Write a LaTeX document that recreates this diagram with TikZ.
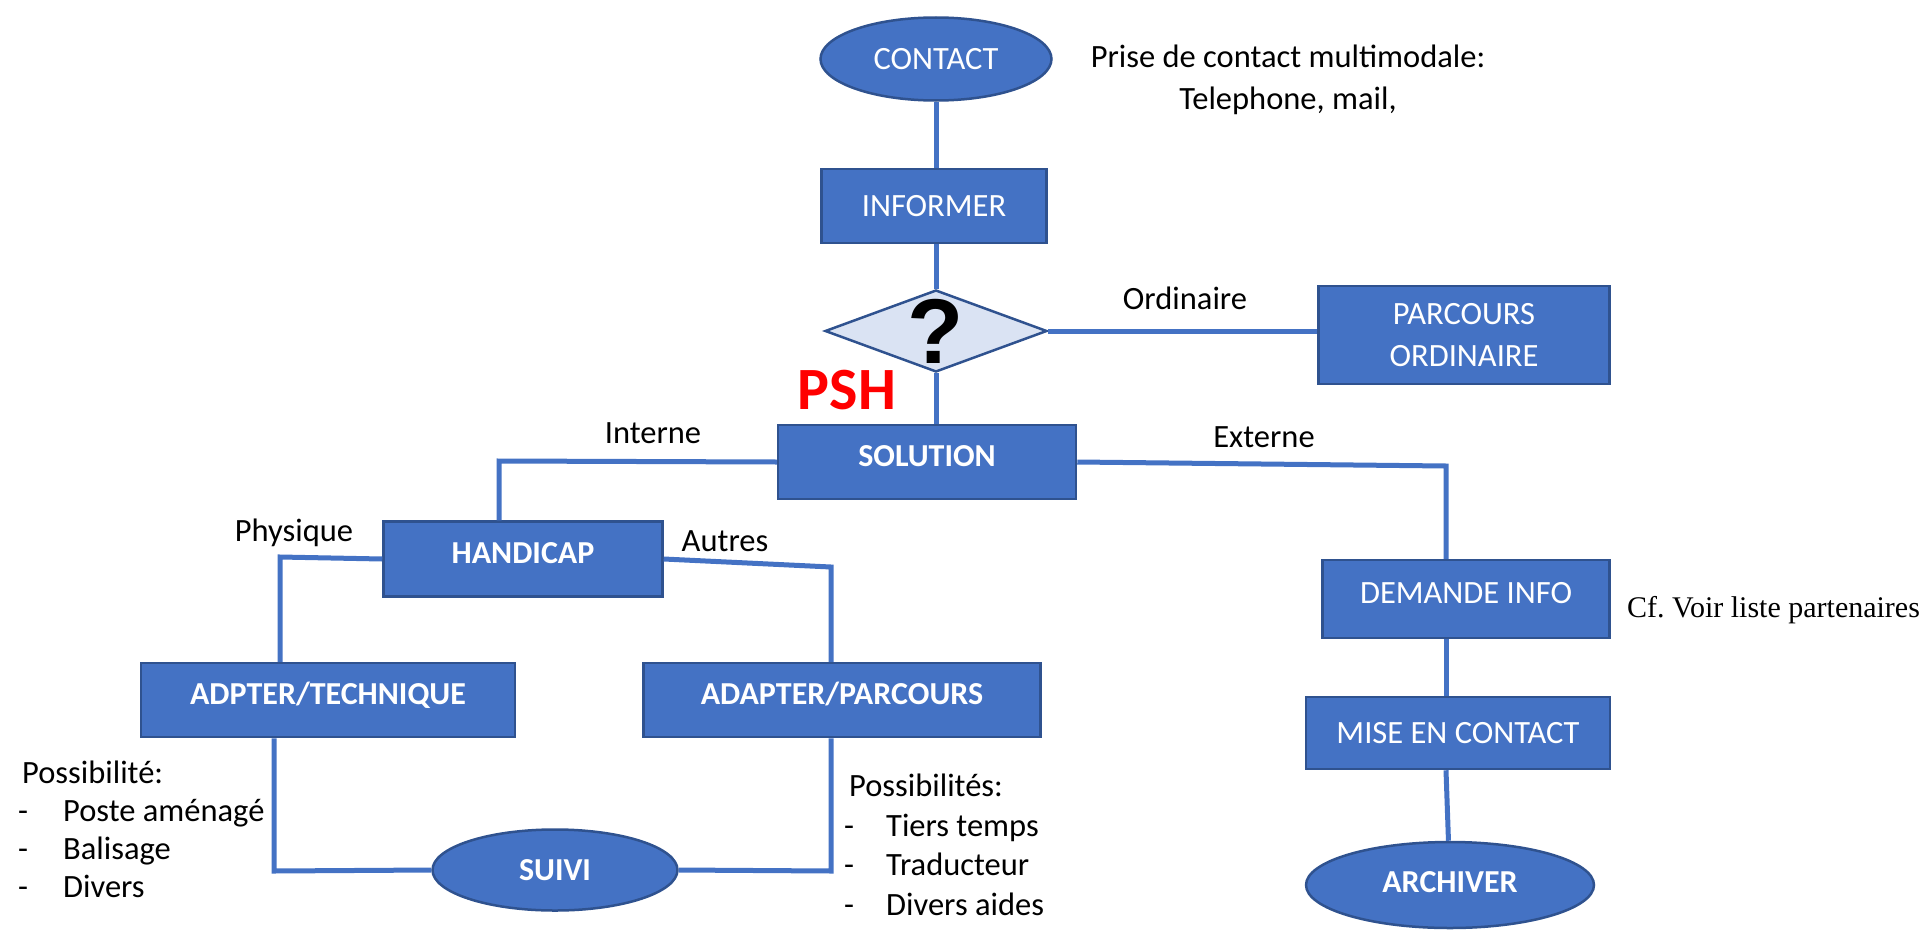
\documentclass[tikz,border=0pt]{standalone}
\usepackage{fontspec}
\setmainfont{Carlito}
\newfontfamily\notefont{Liberation Serif}
\newfontfamily\markfont{Liberation Sans}
\usepackage{tikz}
\usetikzlibrary{shapes.geometric}
\usepackage{xcolor}
\definecolor{boxblue}{HTML}{4472C4}
\definecolor{edgeblue}{HTML}{2F528F}
\definecolor{paleblue}{HTML}{DAE3F3}

\begin{document}
\begin{tikzpicture}[
    x=1pt, y=-1pt,
    box/.style={draw=edgeblue, fill=boxblue, line width=2.5pt, text=white, inner sep=0pt, align=center, font=\fontsize{32.5}{41}\selectfont},
    boldbox/.style={box, font=\fontsize{32}{41}\selectfont\bfseries},
    raised/.style={text height=21pt, text depth=12pt},
    oval/.style={box, ellipse},
    boldoval/.style={boldbox, ellipse},
    decision/.style={diamond, draw=edgeblue, fill=paleblue, line width=2.5pt, inner sep=0pt},
    link/.style={draw=boxblue, line width=5pt},
    lbl/.style={inner sep=0pt, font=\fontsize{32.5}{38}\selectfont},
]
\useasboundingbox (0,0) rectangle (1924,934);

% Contact and question
\node[oval, minimum width=231pt, minimum height=83pt] (contact) at (936,59) {CONTACT};
\node[box, minimum width=225pt, minimum height=74pt] (informer) at (934,206) {INFORMER};
\node[decision, minimum width=222pt, minimum height=82pt,
      label={[font=\markfont\fontsize{92}{92}\selectfont\bfseries]center:?}] (question) at (936,331) {};
\node[box, minimum width=291pt, minimum height=98pt, font=\fontsize{32.5}{42}\selectfont] (ordinaire) at (1464,335) {PARCOURS\\ORDINAIRE};
\node[text=red, inner sep=0pt, font=\fontsize{60}{60}\selectfont\bfseries] (psh) at (847,390) {PSH};

\node[lbl, align=center, font=\fontsize{32.5}{42}\selectfont] (multimodal) at (1288,80) {Prise de contact multimodale:\\Telephone, mail,};

% Solution branches
\node[boldbox, raised, minimum width=298pt, minimum height=74pt] (solution) at (927,462) {SOLUTION};
\node[boldbox, raised, minimum width=279pt, minimum height=75pt] (handicap) at (523,559) {HANDICAP};
\node[boldbox, raised, minimum width=374pt, minimum height=74pt] (technique) at (328,700) {ADPTER/TECHNIQUE};
\node[boldbox, raised, minimum width=397pt, minimum height=74pt] (parcours) at (842,700) {ADAPTER/PARCOURS};
\node[boldoval, minimum width=245pt, minimum height=81pt] (suivi) at (555,870) {SUIVI};

% External path
\node[box, raised, minimum width=287pt, minimum height=78pt] (demande) at (1466,599) {DEMANDE INFO};
\node[box, minimum width=304pt, minimum height=72pt] (miseencontact) at (1458,733) {MISE EN CONTACT};
\node[boldoval, minimum width=288pt, minimum height=86pt, text height=21pt, text depth=6pt] (archiver) at (1450,885) {ARCHIVER};
\node[lbl, anchor=west, font=\notefont\fontsize{30}{34}\selectfont] (partenaires) at (1627,610) {Cf.\ Voir liste partenaires};

% Branch labels
\node[lbl] (ordinairelbl) at (1185,298) {Ordinaire};
\node[lbl] (internelbl) at (653,433) {Interne};
\node[lbl] (externelbl) at (1264,437) {Externe};
\node[lbl] (physiquelbl) at (294,533) {Physique};
\node[lbl] (autreslbl) at (725,541) {Autres};

% Lists
\node[lbl, anchor=north west] (possleft) at (18,757) {%
  \begin{tabular}{@{}p{45pt}@{}l@{}}
  \multicolumn{2}{@{\hspace{4pt}}l}{Possibilité:}\\
  - & Poste aménagé\\
  - & Balisage\\
  - & Divers
  \end{tabular}};
\node[lbl, anchor=north west, font=\fontsize{32.5}{39.5}\selectfont] (possright) at (844,769) {%
  \begin{tabular}{@{}p{42pt}@{}l@{}}
  \multicolumn{2}{@{\hspace{5pt}}l}{Possibilités:}\\
  - & Tiers temps\\
  - & Traducteur\\
  - & Divers aides
  \end{tabular}};

% Knees of the connectors
\coordinate (interneknee) at (499,461);
\coordinate (externeknee) at (1446,466);
\coordinate (physiqueknee) at (280,557);
\coordinate (autresknee) at (831,567);
\coordinate (leftknee) at (274,871);
\coordinate (rightknee) at (831,871);

% Connectors
\draw[link] (contact) -- (informer.north -| contact);
\draw[link] (informer.south -| contact) -- (question);
\draw[link] (question.east) -- (question.east -| ordinaire.west);
\draw[link] (question) -- (question |- solution.north);
\draw[link] (solution.west) -- (interneknee) -- (interneknee |- handicap.north);
\draw[link] (solution.east) -- (externeknee) -- (externeknee |- demande.north);
\draw[link] (handicap.west) -- (physiqueknee) -- (physiqueknee |- technique.north);
\draw[link] (handicap.east) -- (autresknee) -- (autresknee |- parcours.north);
\draw[link] (leftknee |- technique.south) -- (leftknee) -- (suivi.west);
\draw[link] (rightknee |- parcours.south) -- (rightknee) -- (suivi.east);
\draw[link] (externeknee |- demande.south) -- (externeknee |- miseencontact.north);
\draw[link] (externeknee |- miseencontact.south) -- (archiver);
\end{tikzpicture}
\end{document}
